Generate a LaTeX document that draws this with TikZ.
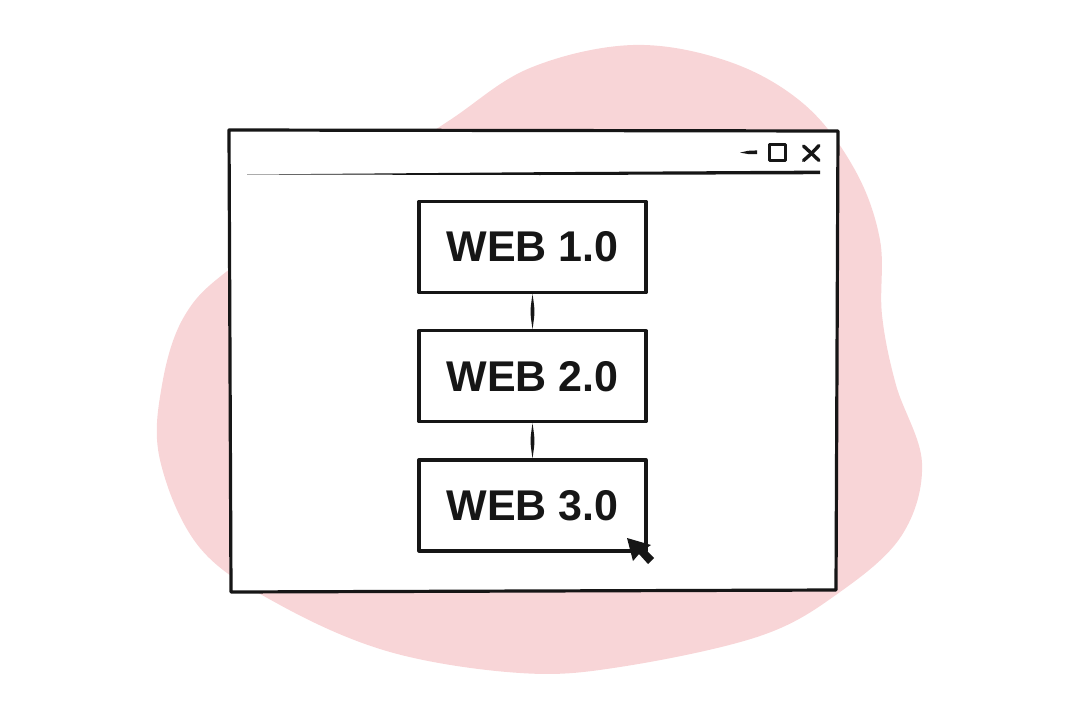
\documentclass[tikz,border=0pt]{standalone}
\definecolor{BlobPink}{RGB}{248,213,215}
\definecolor{InkBlack}{RGB}{22,22,22}
\usepackage{fontspec}
\newfontfamily\webfont{Liberation Sans}
\usepackage{tikz}
\usetikzlibrary{calc, positioning}

\begin{document}
\begin{tikzpicture}[
  x=1pt, y=-1pt,
  webbox/.style={draw=InkBlack, fill=white, line width=3.2pt, line join=round,
    minimum width=227pt, minimum height=91pt, inner sep=0pt,
    font=\webfont\bfseries\fontsize{43}{48}\selectfont, text=InkBlack},
  ink/.style={InkBlack, line cap=round, line join=round}
]
\useasboundingbox (0,0) rectangle (1080,720);

% pink blob behind the window
\fill[BlobPink] plot[smooth cycle, tension=0.6] coordinates {
  (633,45) (730,62) (805,105) (855,170) (880,240) (882,315) (896,385) (922,463)
  (902,535) (840,592) (760,636) (620,667) (520,673) (390,652) (280,605)
  (200,548) (160,460) (162,385) (185,315) (235,265) (360,180) (450,120) (530,68)};

% browser window
\filldraw[ink, fill=white, line width=3.2pt] (229,130) -- (838,131) -- (836,590) -- (231,592) -- cycle;
\fill[ink] (247,174.5) -- (540,172.2) -- (820,170.6) -- (820,174.2) -- (540,175) -- cycle;

% window controls
\fill[ink] (740,152.6) -- (748,150.8) -- (757,150.4) -- (757,154.2) -- (748,154) -- cycle;
\draw[ink, line width=3pt] (769.5,144.5) rectangle (785.5,160);
\draw[ink, line width=3.4pt] (803.5,146) .. controls (810,152) .. (819,160.5);
\draw[ink, line width=3.4pt] (803.5,160.5) .. controls (811,154) .. (819,145.5);

% the three steps
\node[webbox] (web1) at (532.5,247) {WEB 1.0};
\node[webbox, below=35pt of web1] (web2) {WEB 2.0};
\node[webbox, below=35pt of web2] (web3) {WEB 3.0};

\foreach \a/\b in {web1/web2, web2/web3}
  \fill[ink] (\a.south) .. controls ($(\a.south)!0.5!(\b.north)+(2.6,0)$) .. (\b.north)
    .. controls ($(\a.south)!0.5!(\b.north)+(-2.6,0)$) .. cycle;

% mouse pointer
\fill[ink] (627,538) -- (633,561) -- (639,554) -- (648,564) -- (654,558)
  -- (645,549) -- (651,545) -- cycle;
\end{tikzpicture}
\end{document}
